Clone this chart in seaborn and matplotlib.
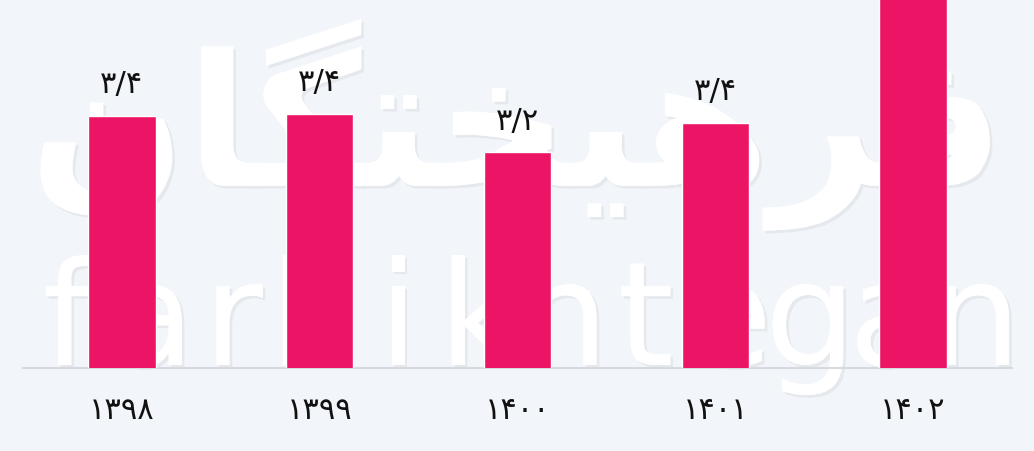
import matplotlib
matplotlib.use("Agg")
import matplotlib.pyplot as plt
import matplotlib.patheffects as pe
import seaborn as sns
import pandas as pd

years = ["1398", "1399", "1400", "1401", "1402"]
values = [3.41, 3.42, 3.2, 3.37, 4.3]

FA = str.maketrans("0123456789", "۰۱۲۳۴۵۶۷۸۹")
def fa(s):
    return s.translate(FA)

year_labels = [fa(y) for y in years]
value_labels = [fa(f"{v:.1f}".replace(".", "/")) for v in values]

BG = "#F2F5F9"
BAR = "#EC1464"

sns.set_theme(style="white")
plt.rcParams["font.family"] = ["DejaVu Sans"]

fig = plt.figure(figsize=(10.34, 4.51), dpi=100, facecolor=BG)

# background axes holding the watermark
bg = fig.add_axes([0, 0, 1, 1], zorder=0)
bg.set_xlim(0, 1034)
bg.set_ylim(451, 0)
bg.set_axis_off()
bg.set_facecolor(BG)
shadow = [pe.withSimplePatchShadow(offset=(2, -2), shadow_rgbFace="#c9ced6", alpha=0.3), pe.Normal()]
fa_mark = "\uFEE5\uFE8E\uFB95\uFE98\uFEA8\uFBFF\uFEEB\uFEAE\uFED3"
bg.text(517, 125, fa_mark, ha="center", va="center", fontsize=132, fontweight="bold",
        color="white", path_effects=shadow)
latin = "farhikhtegan"
for i, ch in enumerate(latin):
    bg.text(68 + i * 82.5, 365, ch, ha="center", va="baseline", fontsize=104,
            color="white", path_effects=shadow)

ax = fig.add_axes([23 / 1034, 83 / 451, 989 / 1034, 368 / 451], zorder=1)
ax.patch.set_alpha(0)

df = pd.DataFrame({"year": year_labels, "value": values})
sns.barplot(data=df, x="year", y="value", color=BAR, width=0.34, saturation=1, ax=ax, zorder=3)

ax.set_xlim(-0.5, 4.5)
ax.set_ylim(1.97, 4.07)
ax.bar_label(ax.containers[0], labels=value_labels, padding=12, fontsize=22, color="#111111")

ax.set_xlabel("")
ax.set_ylabel("")
ax.set_yticks([])
ax.tick_params(axis="x", length=0, pad=20, labelsize=22, labelcolor="#111111")
for s in ["top", "left", "right"]:
    ax.spines[s].set_visible(False)
ax.spines["bottom"].set_color("#D6D9DE")
ax.spines["bottom"].set_linewidth(1.5)

fig.savefig("out.png", dpi=100, facecolor=BG)
